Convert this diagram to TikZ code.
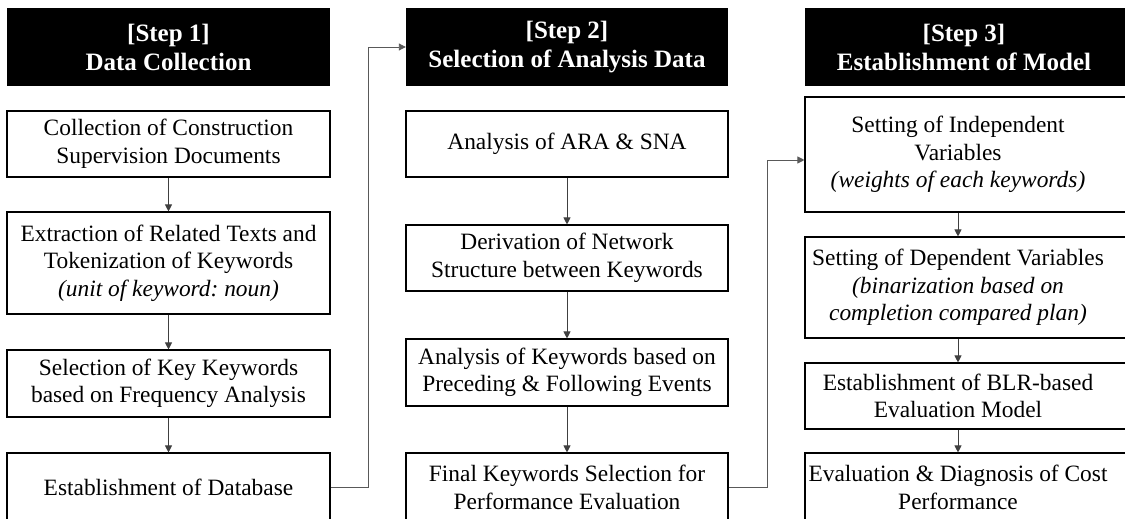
\documentclass[tikz,border=0pt]{standalone}
\usepackage{fontspec}
\setmainfont{Liberation Serif}
\usetikzlibrary{arrows.meta,calc}
\frenchspacing
\begin{document}
\begin{tikzpicture}[x=1pt,y=-1pt,
  box/.style={draw=black, line width=1.1pt, fill=white, align=center, inner sep=0pt,
    font=\fontsize{23.4}{27.5}\selectfont},
  plain/.style={align=center, inner sep=0pt, font=\fontsize{23.4}{27.5}\selectfont},
  head/.style={fill=black, text=white, align=center, inner sep=0pt,
    font=\fontsize{25}{29}\selectfont\bfseries},
  headtext/.style={text=white, align=center, inner sep=0pt,
    font=\fontsize{25}{29}\selectfont\bfseries},
  arr/.style={draw=black!75, line width=0.9pt, -{Triangle[length=7pt,width=7pt]}},
  link/.style={draw=black!65, line width=0.9pt, -{Triangle[length=7pt,width=7pt]}}
]
\useasboundingbox (0,0) rectangle (1125,519);

% ---------- column 1 ----------
\node[head, minimum width=323, minimum height=78] (h1) at (168.5,47) {[Step 1]\\Data Collection};
\node[box, minimum width=323, minimum height=66] (a1) at (168.5,144) {Collection of Construction\\Supervision Documents};
\node[box, minimum width=323, minimum height=102] (a2) at (168.5,263) {Extraction of Related Texts and\\Tokenization of Keywords\\\textit{(unit of keyword: noun)}};
\node[box, minimum width=323, minimum height=67] (a3) at (168.5,383.5) {Selection of Key Keywords\\based on Frequency Analysis};
\node[box, minimum width=323, minimum height=69] (a4) at (168.5,487.5) {Establishment of Database};

% ---------- column 2 ----------
\node[head, minimum width=322, minimum height=78] (h2) at (567,47) {[Step 2]\\Selection of Analysis Data};
\node[box, minimum width=322, minimum height=66] (b1) at (567,144) {Analysis of ARA \& SNA};
\node[box, minimum width=322, minimum height=66] (b2) at (567,258) {Derivation of Network\\Structure between Keywords};
\node[box, minimum width=322, minimum height=67] (b3) at (567,372.5) {Analysis of Keywords based on\\Preceding \& Following Events};
\node[box, minimum width=322, minimum height=69] (b4) at (567,487.5) {Final Keywords Selection for\\Performance Evaluation};

% ---------- column 3 ----------
\node[head, minimum width=330, minimum height=78] (h3) at (970,47) {};
\node[headtext] (h3t) at (964,47) {[Step 3]\\Establishment of Model};
\node[box, minimum width=330, minimum height=115] (c1) at (970,154.5) {};
\node[plain] (c1t) at (958,154.5) {Setting of Independent\\Variables\\\textit{(weights of each keywords)}};
\node[box, minimum width=330, minimum height=101] (c2) at (970,287.5) {};
\node[plain] (c2t) at (958,287.5) {Setting of Dependent Variables\\\textit{(binarization based on}\\\textit{completion compared plan)}};
\node[box, minimum width=330, minimum height=66] (c3) at (970,396) {};
\node[plain] (c3t) at (958,396) {Establishment of BLR-based\\Evaluation Model};
\node[box, minimum width=330, minimum height=69] (c4) at (970,487.5) {};
\node[plain] (c4t) at (958,487.5) {Evaluation \& Diagnosis of Cost\\Performance};

% ---------- arrows within columns ----------
\draw[arr] (a1) -- (a2);
\draw[arr] (a2) -- (a3);
\draw[arr] (a3) -- (a4);
\draw[arr] (b1) -- (b2);
\draw[arr] (b2) -- (b3);
\draw[arr] (b3) -- (b4);
\draw[arr] (c1.south -| c1t) -- (c2.north -| c1t);
\draw[arr] (c2.south -| c1t) -- (c3.north -| c1t);
\draw[arr] (c3.south -| c1t) -- (c4.north -| c1t);

% ---------- links between columns ----------
\coordinate (j1) at (368,0);
\coordinate (j2) at (767,0);
\coordinate (t2) at ($(c1.west)+(0,5.5)$);
\draw[link] (a4.east) -| (j1 |- h2.west) -- (h2.west);
\draw[link] (b4.east) -| (j2 |- t2) -- (t2);
\end{tikzpicture}
\end{document}
